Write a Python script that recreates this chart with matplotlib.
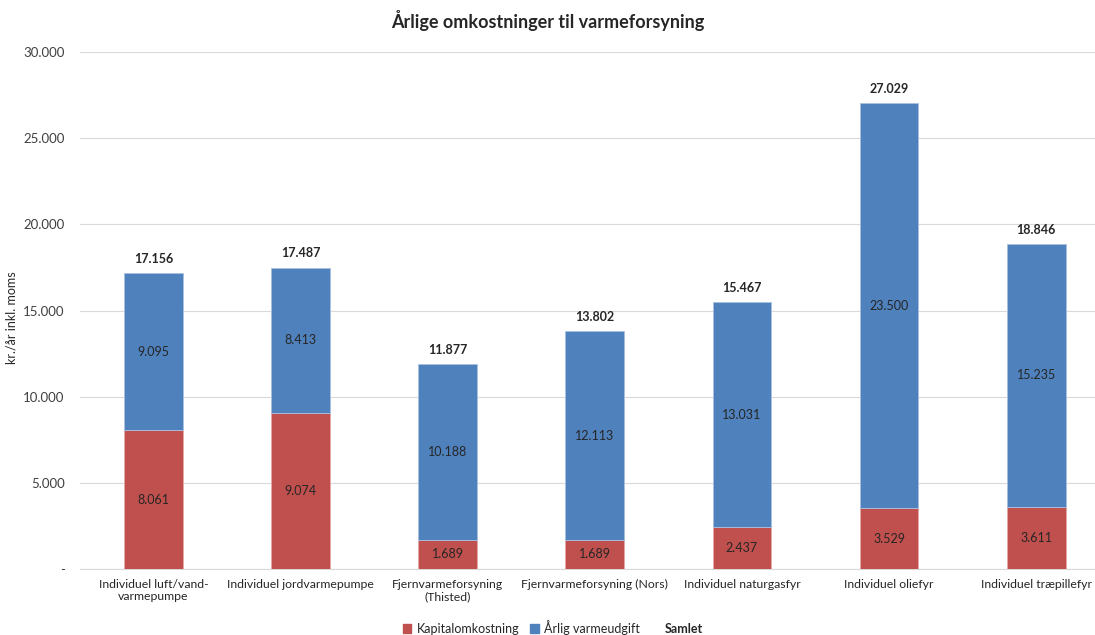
import matplotlib.pyplot as plt
from matplotlib.patches import Patch
from matplotlib.lines import Line2D
from matplotlib.ticker import FuncFormatter

plt.rcParams["font.family"] = ["Lato", "DejaVu Sans"]

categories = ["Individuel luft/vand-\nvarmepumpe", "Individuel jordvarmepumpe",
              "Fjernvarmeforsyning\n(Thisted)", "Fjernvarmeforsyning (Nors)",
              "Individuel naturgasfyr", "Individuel oliefyr", "Individuel træpillefyr"]
kapital = [8061, 9074, 1689, 1689, 2437, 3529, 3611]
varme = [9095, 8413, 10188, 12113, 13031, 23500, 15235]
samlet = [17156, 17487, 11877, 13802, 15467, 27029, 18846]

red = "#C0504D"
blue = "#4F81BD"


def dk(v):
    return f"{v:,.0f}".replace(",", ".")


fig = plt.figure(figsize=(10.95, 6.35), dpi=100)
ax = fig.add_axes([0.073, 0.104, 0.927, 0.814])

x = range(len(categories))
ax.bar(x, kapital, width=0.4, color=red, edgecolor="#E6A9A7", linewidth=0.6, zorder=3)
ax.bar(x, varme, width=0.4, bottom=kapital, color=blue, edgecolor="#A9C1E0", linewidth=0.6, zorder=3)

for i in x:
    ax.text(i, kapital[i] / 2, dk(kapital[i]), ha="center", va="center", fontsize=9, color="#262626")
    ax.text(i, kapital[i] + varme[i] / 2, dk(varme[i]), ha="center", va="center", fontsize=9, color="#262626")
    ax.text(i, samlet[i] + 500, dk(samlet[i]), ha="center", va="bottom", fontsize=9,
            fontweight="bold", color="#262626")

ax.set_xlim(-0.5, 6.4)
ax.set_ylim(0, 30000)
ax.set_yticks(range(0, 30001, 5000))
ax.yaxis.set_major_formatter(FuncFormatter(lambda v, p: "-" if v == 0 else dk(v)))
ax.set_xticks(list(x))
ax.set_xticklabels(categories, fontsize=8.8, color="#262626")
ax.tick_params(axis="y", labelsize=9.5, labelcolor="#404040", length=0, pad=11)
ax.tick_params(axis="x", length=0, pad=7)
ax.grid(axis="y", color="#D9D9D9", linewidth=0.8, zorder=0)
for s in ["top", "right", "left"]:
    ax.spines[s].set_visible(False)
ax.spines["bottom"].set_color("#D9D9D9")
fig.text(12 / 1095, 0.5, "kr./år inkl. moms", rotation=90, ha="center", va="center",
         fontsize=9, color="#262626")

fig.suptitle("Årlige omkostninger til varmeforsyning", fontsize=13, fontweight="bold",
             color="#262626", y=0.985)

handles = [Patch(color=red), Patch(color=blue), Line2D([], [], linestyle="none")]
leg = fig.legend(handles, ["Kapitalomkostning", "Årlig varmeudgift", "Samlet"], loc="lower center",
                 bbox_to_anchor=(0.505, -0.018), ncol=3, frameon=False, fontsize=9,
                 handlelength=0.7, handleheight=0.7, handletextpad=0.4, columnspacing=0.9)
leg.get_texts()[2].set_fontweight("bold")
for t in leg.get_texts():
    t.set_color("#262626")

fig.savefig("out.png", dpi=100)
